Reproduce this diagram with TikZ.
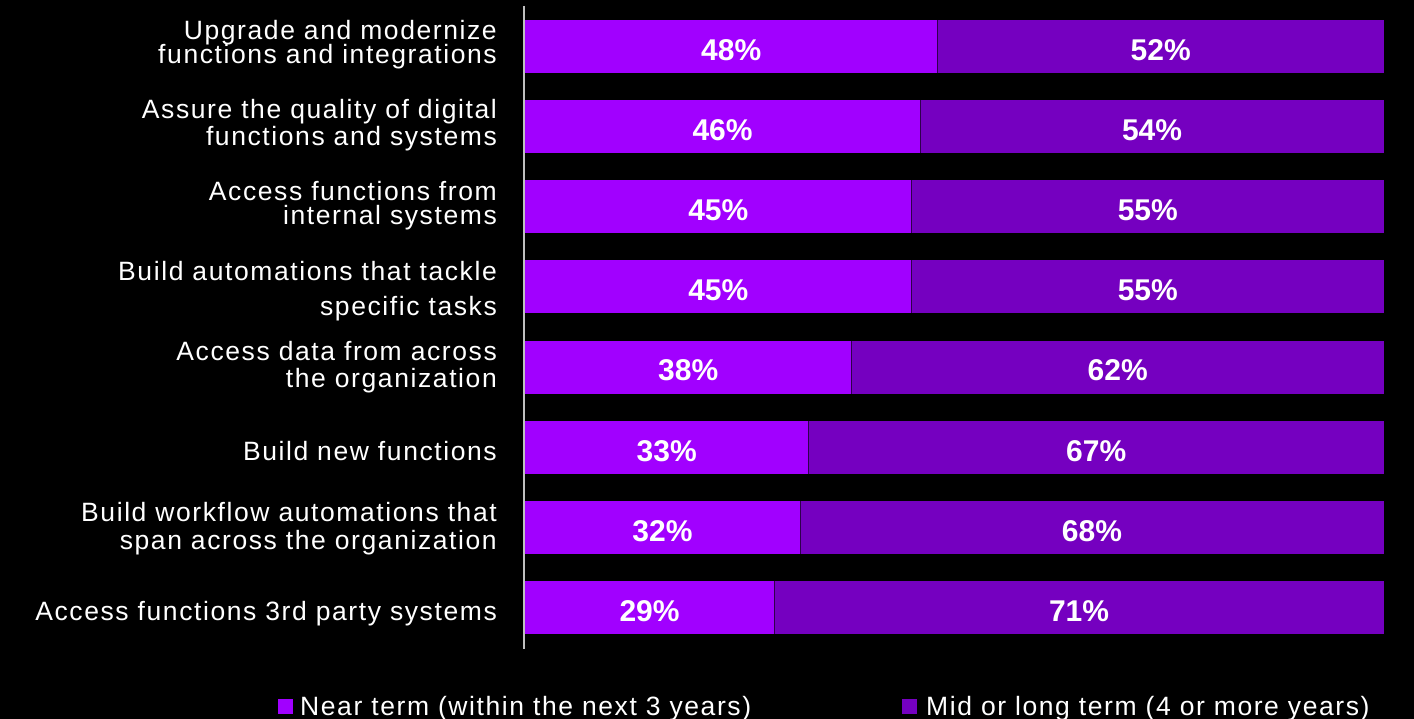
\documentclass[tikz,border=0pt]{standalone}
\usepackage{fontspec}
\setmainfont{Liberation Sans}
\newfontfamily\labelfont{Liberation Sans}[LetterSpace=6]
\definecolor{nearterm}{HTML}{A100FF}
\definecolor{midterm}{HTML}{7500C0}
\definecolor{axisgray}{HTML}{BFBFBF}
\tikzset{
  catlabel/.style={anchor=base east, inner sep=0pt, text=white, font=\labelfont\fontsize{26.5}{30}\selectfont},
  pct/.style={inner sep=0pt, text=white, font=\bfseries\fontsize{30}{32}\selectfont},
  legendtext/.style={anchor=base west, inner sep=0pt, text=white, font=\labelfont\fontsize{26.5}{30}\selectfont},
}
\begin{document}
\begin{tikzpicture}[x=1pt, y=-1pt]
				% Define parameters
				\def\barL{525} % left end of the bars
				\def\barR{1384} % right end of the bars
				\def\barH{53} % height of one bar
				\def\rowgap{80.14} % distance between bar tops
				
				% Background
				\fill[black] (0,0) rectangle (1414,719);
				\useasboundingbox (0,0) rectangle (1414,719);
				
				% Stacked bars with their percentages
				\foreach \n [count=\i] in {48,46,45,45,38,33,32,29}{
					\pgfmathsetmacro{\ytop}{20+\rowgap*(\i-1)}
					\pgfmathsetmacro{\xsplit}{\barL+(\barR-\barL)/100*\n}
					\pgfmathtruncatemacro{\m}{100-\n}
					\fill[nearterm] (\barL,\ytop) rectangle (\xsplit,\ytop+\barH);
					\fill[midterm] (\xsplit,\ytop) rectangle (\barR,\ytop+\barH);
					\draw[black!60!midterm, line width=0.6pt] (\xsplit,\ytop) -- (\xsplit,\ytop+\barH);
					\node[pct] (near\i) at ({(\barL+\xsplit)/2},\ytop+30) {\n\%};
					\node[pct] (mid\i) at ({(\xsplit+\barR)/2},\ytop+30) {\m\%};
				}
				
				% Vertical axis
				\draw[axisgray, line width=1.4pt] (524,6) -- (524,649);
				
				% Category labels
				\node[catlabel] (lab1a) at (497,40) {Upgrade and modernize};
				\node[catlabel] (lab1b) at (497,64) {functions and integrations};
				\node[catlabel] (lab2a) at (497,119) {Assure the quality of digital};
				\node[catlabel] (lab2b) at (497,146) {functions and systems};
				\node[catlabel] (lab3a) at (497,201) {Access functions from};
				\node[catlabel] (lab3b) at (497,225) {internal systems};
				\node[catlabel] (lab4a) at (497,281) {Build automations that tackle};
				\node[catlabel] (lab4b) at (497,316) {specific tasks};
				\node[catlabel] (lab5a) at (497,360) {Access data from across};
				\node[catlabel] (lab5b) at (497,387) {the organization};
				\node[catlabel] (lab6) at (497,460) {Build new functions};
				\node[catlabel] (lab7a) at (497,521) {Build workflow automations that};
				\node[catlabel] (lab7b) at (497,549) {span across the organization};
				\node[catlabel] (lab8) at (497,620) {Access functions 3rd party systems};
				
				% Legend
				\fill[nearterm] (278,699) rectangle (293,714);
				\node[legendtext] (keynear) at (300,715) {Near term (within the next 3 years)};
				\fill[midterm] (902,699) rectangle (917,714);
				\node[legendtext] (keymid) at (926,715) {Mid or long term (4 or more years)};
\end{tikzpicture}
\end{document}
